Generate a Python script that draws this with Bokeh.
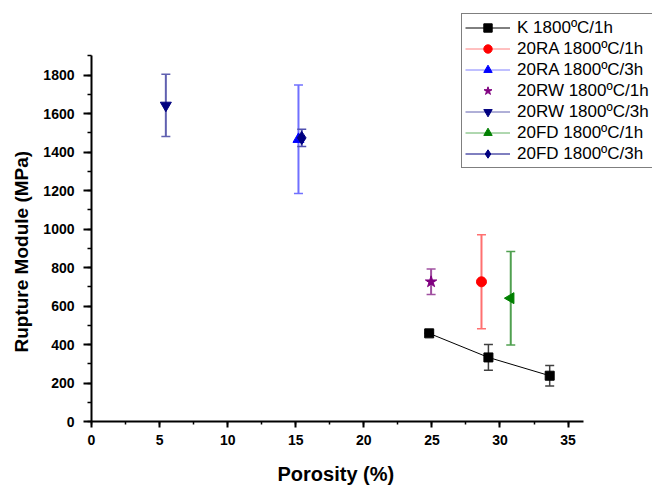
import math
from bokeh.plotting import figure
from bokeh.models import (ColumnDataSource, Whisker, TeeHead, Range1d, SingleIntervalTicker,
                          Legend, LegendItem, Title)
from bokeh.embed import file_html
from bokeh.resources import INLINE

# ---- data ----
k_x = [24.8, 29.15, 33.65]
k_y = [458, 333, 238]
k_err = [0, 67, 53]

ra1_x = [28.64]
ra1_y = [726]
ra1_err = [244]

ra3_x = [15.2]
ra3_y = [1467]
ra3_err = [282]

rw1_x = [24.94]
rw1_y = [726]
rw1_err = [66]

rw3_x = [5.46]
rw3_y = [1643]
rw3_err = [162]

fd1_x = [30.79]
fd1_y = [641]
fd1_err = [243]

fd3_x = [15.44]
fd3_y = [1474]
fd3_err = [45]

labels = ["K 1800\u00baC/1h", "20RA 1800\u00baC/1h", "20RA 1800\u00baC/3h",
          "20RW 1800\u00baC/1h", "20RW 1800\u00baC/3h", "20FD 1800\u00baC/1h",
          "20FD 1800\u00baC/3h"]

x_title = "Porosity (%)"
y_title = "Rupture Module (MPa)"
x_axis_bounds = (0, 36.1)
y_axis_bounds = (0, 1900)

FONT = "Liberation Sans"

# frame extends to the canvas' top/right so the legend is not clipped;
# the axes are limited with bounds.
p = figure(width=652, height=486, output_backend="svg", toolbar_location=None,
           x_range=Range1d(0, 41.2), y_range=Range1d(0, 2188),
           min_border_left=91, min_border_right=0, min_border_top=0, min_border_bottom=65)
p.outline_line_color = None
p.xgrid.visible = False
p.ygrid.visible = False
p.background_fill_color = "white"
p.border_fill_color = "white"

p.xaxis.ticker = SingleIntervalTicker(interval=5, num_minor_ticks=2)
p.yaxis.ticker = SingleIntervalTicker(interval=200, num_minor_ticks=2)
p.xaxis.bounds = x_axis_bounds
p.yaxis.bounds = y_axis_bounds
for ax in (p.xaxis[0], p.yaxis[0]):
    ax.axis_line_width = 2
    ax.axis_line_color = "black"
    ax.major_tick_line_width = 2
    ax.minor_tick_line_width = 1.5
    ax.major_tick_in = 0
    ax.minor_tick_in = 0
    ax.major_label_text_font = FONT
    ax.major_label_text_font_style = "bold"
    ax.major_label_text_font_size = "14px"
    ax.major_label_text_color = "black"
p.xaxis.major_tick_out = 6
p.xaxis.minor_tick_out = 3
p.yaxis.major_tick_out = 8
p.yaxis.minor_tick_out = 4
p.xaxis.major_label_standoff = 7
p.yaxis.major_label_standoff = 9
# blank spacer label pushes the x title down a little
p.xaxis.axis_label = "\u00a0"
p.xaxis.axis_label_text_font_size = "1px"
p.xaxis.axis_label_standoff = 11

xt = Title(text=x_title, align="left", offset=186, vertical_align="top", standoff=0,
           text_font=FONT, text_font_style="bold", text_font_size="20px", text_color="black")
p.add_layout(xt, "below")
yt = Title(text=y_title, align="left", offset=69, vertical_align="middle", standoff=16,
           text_font=FONT, text_font_style="bold", text_font_size="19px", text_color="black")
p.add_layout(yt, "left")

series = [
    (k_x, k_y, k_err, "square", 9, "black", "black", 0),
    (ra1_x, ra1_y, ra1_err, "circle", 10, "red", "#ff8080", 0),
    (ra3_x, ra3_y, ra3_err, "triangle", 11, "blue", "#8080ff", 0),
    (rw1_x, rw1_y, rw1_err, "star", 12, "purple", None, 0),
    (rw3_x, rw3_y, rw3_err, "inverted_triangle", 11, "navy", "#6060b0", 0),
    (fd1_x, fd1_y, fd1_err, "triangle", 11, "green", "#60b060", math.pi / 2),
    (fd3_x, fd3_y, fd3_err, "diamond", 13, "navy", "#000080", 0),
]

bar_colors = ["#404040", "#ff7070", "#7070ff", "#a050a0", "#6060b0", "#50a050", "#5050b0"]

items = []
for (xs, ys, errs, marker, size, color, lcolor, ang), bcol, label in zip(series, bar_colors, labels):
    src = ColumnDataSource(dict(x=xs, y=ys,
                                lo=[y - e for y, e in zip(ys, errs)],
                                hi=[y + e for y, e in zip(ys, errs)]))
    w = Whisker(source=src, base="x", lower="lo", upper="hi", dimension="height",
                line_color=bcol, line_width=1.5 if color == "black" else 2,
                upper_head=TeeHead(size=9, line_color=bcol, line_width=1.5),
                lower_head=TeeHead(size=9, line_color=bcol, line_width=1.5))
    p.add_layout(w)
    rs = []
    if lcolor is not None:
        ln = p.line("x", "y", source=src, line_color=lcolor, line_width=1)
        rs.append(ln)
    sc = p.scatter("x", "y", source=src, marker=marker, size=size, angle=ang,
                   fill_color=color, line_color=color)
    rs.append(sc)
    items.append(LegendItem(label=label, renderers=rs))

legend = Legend(items=items, location=(370, 253))
legend.label_text_font = FONT
legend.label_text_font_size = "17px"
legend.label_text_color = "black"
legend.label_height = 21
legend.glyph_height = 21
legend.glyph_width = 45
legend.label_standoff = 7
legend.spacing = 0
legend.padding = 3
legend.margin = 0
legend.border_line_color = "black"
legend.border_line_width = 1
legend.background_fill_color = "white"
legend.background_fill_alpha = 1
p.add_layout(legend, "center")

open("out.html", "w").write(file_html(p, INLINE))
